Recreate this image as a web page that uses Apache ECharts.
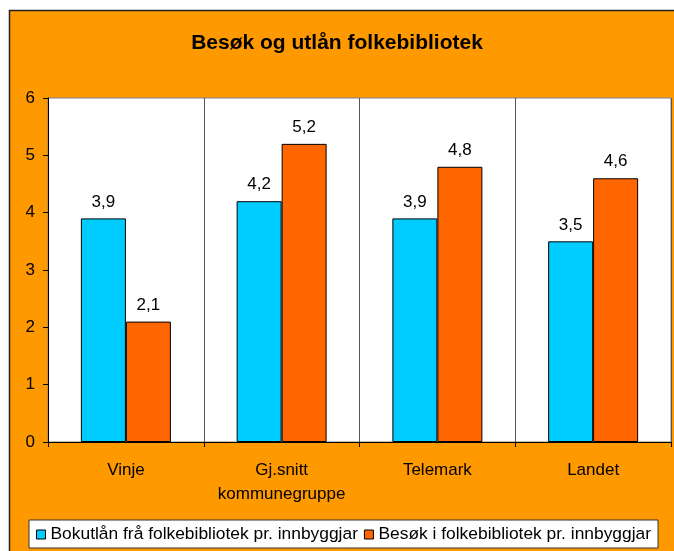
<!DOCTYPE html>
<html><head><meta charset="utf-8">
<script src="https://cdn.jsdelivr.net/npm/echarts@6/dist/echarts.min.js"></script>
<style>html,body{margin:0;padding:0;background:#fff}#c{width:674px;height:551px}</style>
</head><body><div id="c"></div>
<script>
const categories = ['Vinje', 'Gj.snitt\nkommunegruppe', 'Telemark', 'Landet'];
const bokutlan = [3.9, 4.2, 3.9, 3.5];
const besok = [2.1, 5.2, 4.8, 4.6];
const seriesNames = ['Bokutlån frå folkebibliotek pr. innbyggjar', 'Besøk i folkebibliotek pr. innbyggjar'];
const yTicks = [0, 1, 2, 3, 4, 5, 6];

const FONT = "'Liberation Sans', Arial, sans-serif";
const chart = echarts.init(document.getElementById('c'));
const lbl = {
  show: true, position: 'top', distance: 8, color: '#000', fontFamily: FONT, fontSize: 17,
  formatter: p => String(p.value).replace('.', ',')
};
chart.setOption({
  animation: false,
  backgroundColor: 'transparent',
  graphic: [{
    type: 'rect', z: -100, silent: true,
    shape: { x: 9.5, y: 10.5, width: 700, height: 600 },
    style: { fill: '#FF9900', stroke: '#222', lineWidth: 1.5 }
  }],
  title: {
    text: 'Besøk og utlån folkebibliotek', left: 'center', top: 28,
    textStyle: { fontFamily: FONT, fontSize: 21, fontWeight: 'bold', color: '#000' }
  },
  legend: {
    left: 29, top: 520,
    backgroundColor: '#fff', borderColor: '#333', borderWidth: 1,
    padding: [6, 7, 5, 7], itemWidth: 9, itemHeight: 9, itemGap: 6,
    icon: 'rect',
    itemStyle: { borderColor: '#000', borderWidth: 1 },
    textStyle: { fontFamily: FONT, fontSize: 17.4, color: '#000' },
    data: seriesNames
  },
  grid: {
    left: 48, right: 3, top: 98, bottom: 109, show: true,
    backgroundColor: '#fff', borderColor: '#808080', borderWidth: 1
  },
  xAxis: {
    type: 'category', data: categories,
    axisLine: { lineStyle: { color: '#000' } },
    axisTick: { show: true, interval: 0, length: 5, lineStyle: { color: '#000' } },
    splitLine: { show: true, interval: 0, lineStyle: { color: '#555', width: 1 } },
    axisLabel: { interval: 0, fontFamily: FONT, fontSize: 17, color: '#000', margin: 16, lineHeight: 24 }
  },
  yAxis: {
    type: 'value', min: yTicks[0], max: yTicks[yTicks.length - 1], interval: 1,
    axisLine: { show: true, lineStyle: { color: '#000' } },
    axisTick: { show: true, length: 5, lineStyle: { color: '#000' } },
    splitLine: { show: false },
    axisLabel: { fontFamily: FONT, fontSize: 17, color: '#000', margin: 13 }
  },
  series: [
    { name: seriesNames[0], type: 'bar', data: bokutlan, barWidth: 45, barGap: '0%',
      itemStyle: { color: '#00CCFF', borderColor: '#000', borderWidth: 1 }, label: lbl },
    { name: seriesNames[1], type: 'bar', data: besok, barWidth: 45, barGap: '0%',
      itemStyle: { color: '#FF6600', borderColor: '#000', borderWidth: 1 }, label: lbl }
  ]
});
</script></body></html>
